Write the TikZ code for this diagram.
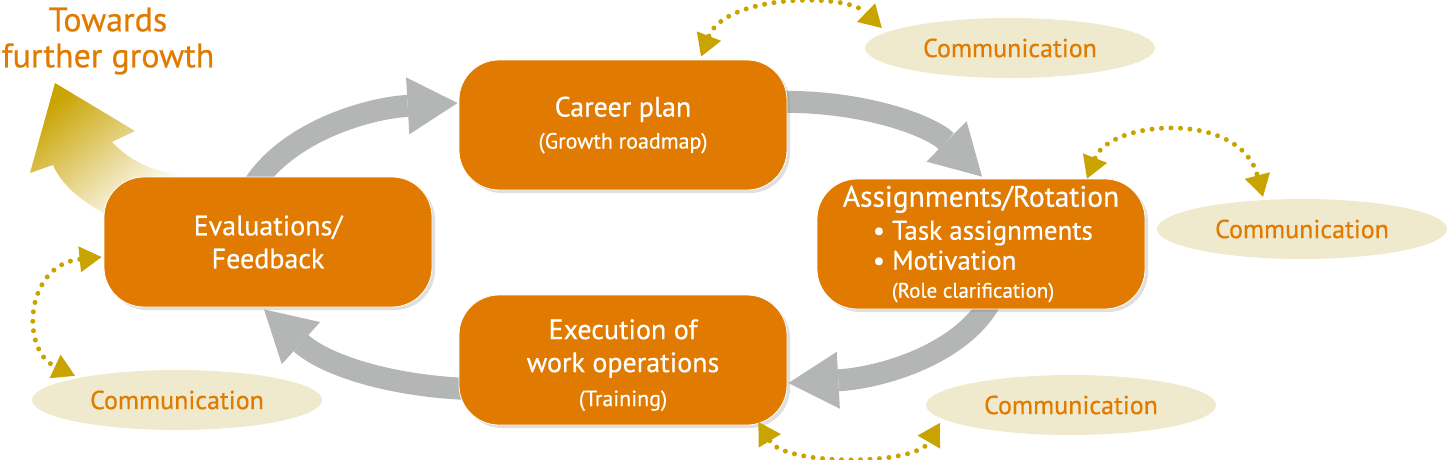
\documentclass[tikz,border=0pt]{standalone}
\usepackage{fontspec}
\setmainfont{PT Sans}[FakeBold=0.5]
\usetikzlibrary{arrows.meta,shadows,calc,shapes.geometric,backgrounds}
\definecolor{boxorange}{HTML}{E07A00}
\definecolor{txtorange}{HTML}{E07B00}
\definecolor{commfill}{HTML}{EFEACD}
\definecolor{arrgray}{HTML}{B4B6B5}
\definecolor{dotgold}{HTML}{C9A300}
\newcommand\mysubsize{\fontsize{22}{26}\selectfont}
\begin{document}
\begin{tikzpicture}[x=1pt,y=-1pt,
  stepbox/.style={draw=white, line width=0.8pt, fill=boxorange, rounded corners=40pt,
    minimum width=328pt, minimum height=130pt, text=white, align=center, inner sep=0pt,
    font=\fontsize{28}{33}\selectfont,
    drop shadow={opacity=0.25, shadow xshift=3pt, shadow yshift=-3pt}},
  comm/.style={ellipse, fill=commfill, minimum width=290pt, minimum height=60pt,
    text=txtorange, font=\fontsize{26}{30}\selectfont, inner sep=0pt},
  bigarrow/.style={draw=arrgray, line width=22pt,
    -{Triangle[length=50pt,width=57pt,line width=0pt]}},
  dotarrow/.style={draw=dotgold, line width=5pt, line cap=round, dash pattern=on 0pt off 9.5pt,
    {Triangle[length=22pt,width=26pt,line width=0pt]}-{Triangle[length=22pt,width=26pt,line width=0pt]}}
]
\useasboundingbox (0,0) rectangle (1448,459);

% growth arrow
\shade[top color=dotgold, middle color=dotgold, bottom color=white, shading angle=40]
  (55,83) -- (135,131) -- (112,142) .. controls (132,163) and (155,172) .. (182,174)
  -- (105,214) .. controls (80,200) and (62,185) .. (53,165) -- (30,173) -- cycle;
\node[text=txtorange, align=center, font=\fontsize{34}{36}\selectfont] (tg) at (108,41) {Towards\\further growth};

% boxes
\node[stepbox] (cp) at (623,125) {Career plan\\[-1pt]{\mysubsize (Growth roadmap)}};
\node[stepbox, align=left] (as) at (981,244)
  {{\fontsize{29.5}{33}\selectfont Assignments/Rotation}\\
   \hspace*{30pt}{\fontsize{27}{30}\selectfont\textbullet\ Task assignments}\\[-3pt]
   \hspace*{30pt}{\fontsize{27}{30}\selectfont\textbullet\ Motivation}\\[-5pt]
   \hspace*{49pt}{\fontsize{21}{24}\selectfont (Role clarification)}};
\node[stepbox] (ex) at (623,360) {\rule{0pt}{30pt}Execution of\\work operations\\[1pt]{\mysubsize (Training)}};
\node[stepbox] (ev) at (268,242) {Evaluations/\\Feedback};

\node[comm] (c1) at (1010,48) {Communication};
\node[comm] (c2) at (1302,229) {Communication};
\node[comm] (c3) at (1071,405) {Communication};
\node[comm] (c4) at (177,400) {Communication};

% gray cycle arrows, beneath the boxes
\begin{scope}[on background layer]
\draw[bigarrow] ($(ev.north)+(-14,8)$) .. controls (290,130) and (370,108) .. ($(cp.west)+(-1,-22)$);
\draw[bigarrow] ($(cp.east)+(-10,-23)$) .. controls (860,100) and (930,125) .. ($(as.north)+(1,-2)$);
\draw[bigarrow] ($(as.south)+(9,-7)$) .. controls (960,355) and (880,378) .. ($(ex.east)+(1,23)$);
\draw[bigarrow] ($(ex.west)+(10,29)$) .. controls (390,386) and (325,365) .. ($(ev.south)+(-4,2)$);
\end{scope}

% dotted communication arrows
\draw[dotarrow] ($(cp.north)+(78,-3)$) .. controls (725,-5) and (845,-8) .. ($(c1.west)+(17,-20)$);
\draw[dotarrow] ($(as.north)+(106,0)$) .. controls (1110,120) and (1240,110) .. ($(c2.north)+(-39,-2)$);
\draw[dotarrow] ($(ex.east)+(-29,62)$) .. controls (785,466) and (915,466) .. ($(c3.west)+(14,18)$);
\draw[dotarrow] ($(ev.west)+(-2,15)$) .. controls (25,265) and (20,350) .. ($(c4.north)+(-102,6)$);
\end{tikzpicture}
\end{document}
